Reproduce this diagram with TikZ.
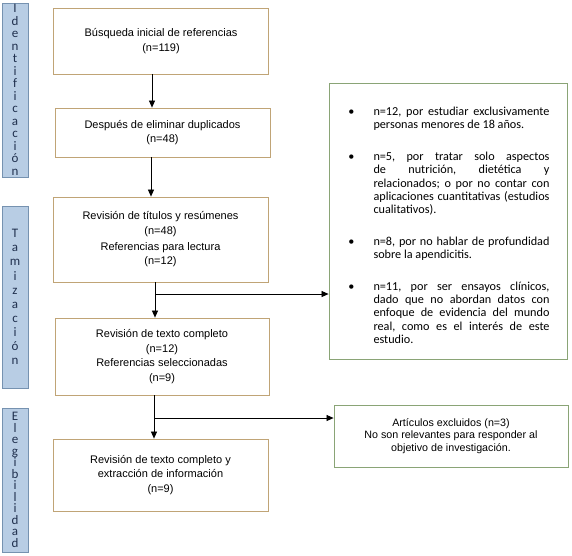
\documentclass[tikz,border=0pt]{standalone}
\usepackage{fontspec}
\setmainfont{Liberation Sans}
\newfontfamily\calib{Carlito}
\usetikzlibrary{positioning,arrows.meta}
\definecolor{boxbrown}{RGB}{192,164,118}
\definecolor{boxgreen}{RGB}{138,164,118}
\definecolor{barfill}{RGB}{184,205,228}
\definecolor{barline}{RGB}{118,146,176}
\definecolor{barletter}{RGB}{32,48,78}
\newcommand\excitem{\par\noindent\llap{\textbullet\hspace{19pt}}}
\tikzset{
  >={Triangle[length=7pt,width=6pt]},
  stagebar/.style={draw=barline,fill=barfill,line width=0.6pt,minimum width=26pt,
    inner sep=0pt,align=center,text=barletter,font=\calib\fontsize{13}{#1}\selectfont},
  procbox/.style={draw=boxbrown,line width=0.8pt,minimum width=215pt,inner sep=0pt,
    align=center,font=\fontsize{11}{14.5}\selectfont},
  exclbox/.style={draw=boxgreen,line width=0.8pt,inner sep=0pt,
    font=\fontsize{10.7}{12.6}\selectfont},
  flow/.style={->,line width=0.7pt},
}

\begin{document}
\begin{tikzpicture}[x=1pt,y=-1pt]
  \useasboundingbox (0,0) rectangle (572,555);
  \node[stagebar=12.5,minimum height=174pt] (ident) at (15,90)
    {I\\d\\e\\n\\t\\i\\f\\i\\c\\a\\c\\i\\ó\\n};
  \node[stagebar=14.1,minimum height=182pt] (tamiz) at (15,297)
    {T\\a\\m\\i\\z\\a\\c\\i\\ó\\n};
  \node[stagebar=11.5,minimum height=144pt] (elegi) at (15,480)
    {E\\l\\e\\g\\i\\b\\i\\l\\i\\d\\a\\d};
  \node[procbox,minimum height=66pt] (busq) at (161,41)
    {Búsqueda inicial de referencias\\(n=119)};
  \node[procbox,minimum height=49pt] (dupl) at (162.5,132.5)
    {Después de eliminar duplicados\\(n=48)};
  \node[procbox,minimum height=85pt] (titul) at (160.5,239.5)
    {Revisión de títulos y resúmenes\\(n=48)\\[1.5pt]Referencias para lectura\\(n=12)};
  \node[procbox,minimum height=77pt,minimum width=214pt] (compl) at (162,356.5)
    {Revisión de texto completo\\(n=12)\\Referencias seleccionadas\\(n=9)};
  \node[procbox,minimum height=72pt] (extra) at (160.5,475)
    {Revisión de texto completo y\\extracción de información\\(n=9)};
  \node[exclbox,minimum width=238pt,minimum height=276pt,inner xsep=17.5pt,
    text width=203pt,align=justify,font=\calib\fontsize{12.2}{13.4}\selectfont]
    (excl1) at (448,221)
    {\hyphenpenalty=10000\frenchspacing\spaceskip=\fontdimen2\font plus \fontdimen3\font\relax
      \leftskip=27pt\parskip=18pt\relax\vspace*{-14pt}%
      \excitem n=12, por estudiar exclusivamente personas menores de 18 años.
      \excitem n=5, por tratar solo aspectos de nutrición, dietética y relacionados;
        o por no contar con aplicaciones cuantitativas (estudios cualitativos).
      \excitem n=8, por no hablar de profundidad sobre la apendicitis.
      \excitem n=11, por ser ensayos clínicos, dado que no abordan datos con
        enfoque de evidencia del mundo real, como es el interés de este estudio.\par};
  \node[exclbox,minimum width=234pt,minimum height=62pt,align=center] (excl2) at (451,436)
    {Artículos excluidos (n=3)\\No son relevantes para responder al\\objetivo de investigación.};
  \coordinate (j1) at (155,294);
  \coordinate (j2) at (154,418);
  \draw[flow] (152,0 |- busq.south) -- (152,0 |- dupl.north);
  \draw[flow] (151,0 |- dupl.south) -- (151,0 |- titul.north);
  \draw[flow] (j1 |- titul.south) -- (j1 |- compl.north);
  \draw[flow] (j1) -- (j1 -| excl1.west);
  \draw[flow] (j2 |- compl.south) -- (j2 |- extra.north);
  \draw[flow] (j2) -- (j2 -| excl2.west);
\end{tikzpicture}
\end{document}
